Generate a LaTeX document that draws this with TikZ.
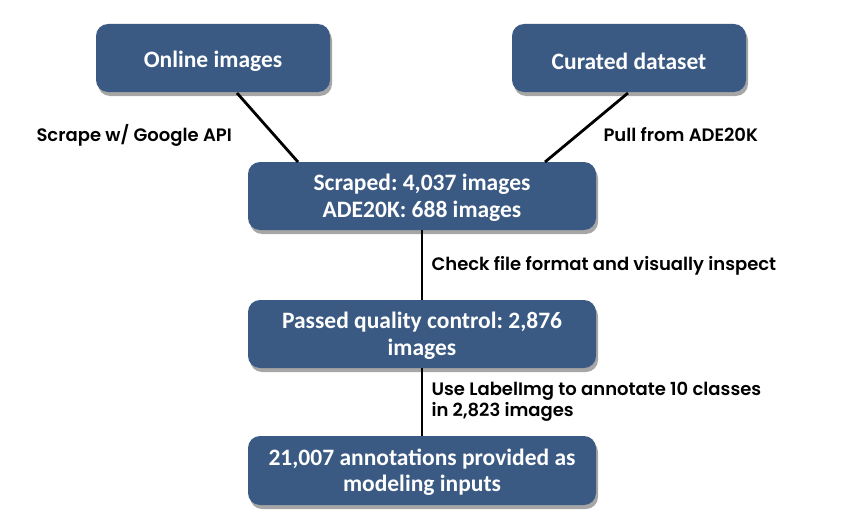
\documentclass[tikz,border=0pt]{standalone}
\usepackage{fontspec}
\setmainfont{Carlito}
\newfontfamily\labelfont{Poppins}[UprightFont=* Medium, BoldFont=* SemiBold]
\usetikzlibrary{shadows}
\definecolor{boxblue}{HTML}{3B5A83}
\frenchspacing
% invisible strut that lowers the text block inside a box
\newcommand{\boxstrut}[1]{\rule{0pt}{#1}}
\tikzset{
  x=1pt, y=-1pt,
  stagebox/.style={draw=none, fill=boxblue, rounded corners=12pt,
    text=white, font=\fontsize{23.5}{26.5}\selectfont\bfseries, align=center,
    drop shadow={shadow xshift=2pt, shadow yshift=-4pt, fill=black, opacity=0.35}},
  steplabel/.style={font=\labelfont\fontsize{18}{21}\selectfont\bfseries, align=left, text=black},
  link/.style={draw=black, line width=2.8pt}
}
\begin{document}
\begin{tikzpicture}
\useasboundingbox (0,0) rectangle (846,527);
% source boxes
\node[stagebox, minimum width=234pt, minimum height=68pt] (online) at (213,58) {\boxstrut{23pt}Online images};
\node[stagebox, minimum width=234pt, minimum height=68pt] (curated) at (629,58) {\boxstrut{23pt}Curated dataset};
% pipeline boxes
\node[stagebox, minimum width=348pt, minimum height=68pt] (scraped) at (422,196) {\boxstrut{20pt}Scraped: 4,037 images\\ADE20K: 688 images};
\node[stagebox, minimum width=348pt, minimum height=68pt] (passed) at (422,334) {\boxstrut{20pt}Passed quality control: 2,876\\images};
\node[stagebox, minimum width=348pt, minimum height=69pt] (final) at (422,470.5) {\boxstrut{20pt}21,007 annotations provided as\\modeling inputs};
% connectors
\coordinate (onlineOut) at (237,93);
\coordinate (scrapedInL) at (298,162);
\coordinate (curatedOut) at (628,93);
\coordinate (scrapedInR) at (545,162);
\draw[link] (onlineOut) -- (scrapedInL);
\draw[link] (curatedOut) -- (scrapedInR);
\draw[link] (scraped.south) -- (passed.north);
\draw[link] (passed.south) -- (final.north);
% step labels
\node[steplabel, anchor=west] (lscrape) at (33,135) {Scrape w/ Google API};
\node[steplabel, anchor=west] (lpull) at (600,135) {Pull from ADE20K};
\node[steplabel, anchor=west] (lcheck) at (428,266) {Check file format and visually inspect};
\node[steplabel, anchor=west] (lanno) at (428,401.5) {Use LabelImg to annotate 10 classes\\in 2,823 images};
\end{tikzpicture}
\end{document}
